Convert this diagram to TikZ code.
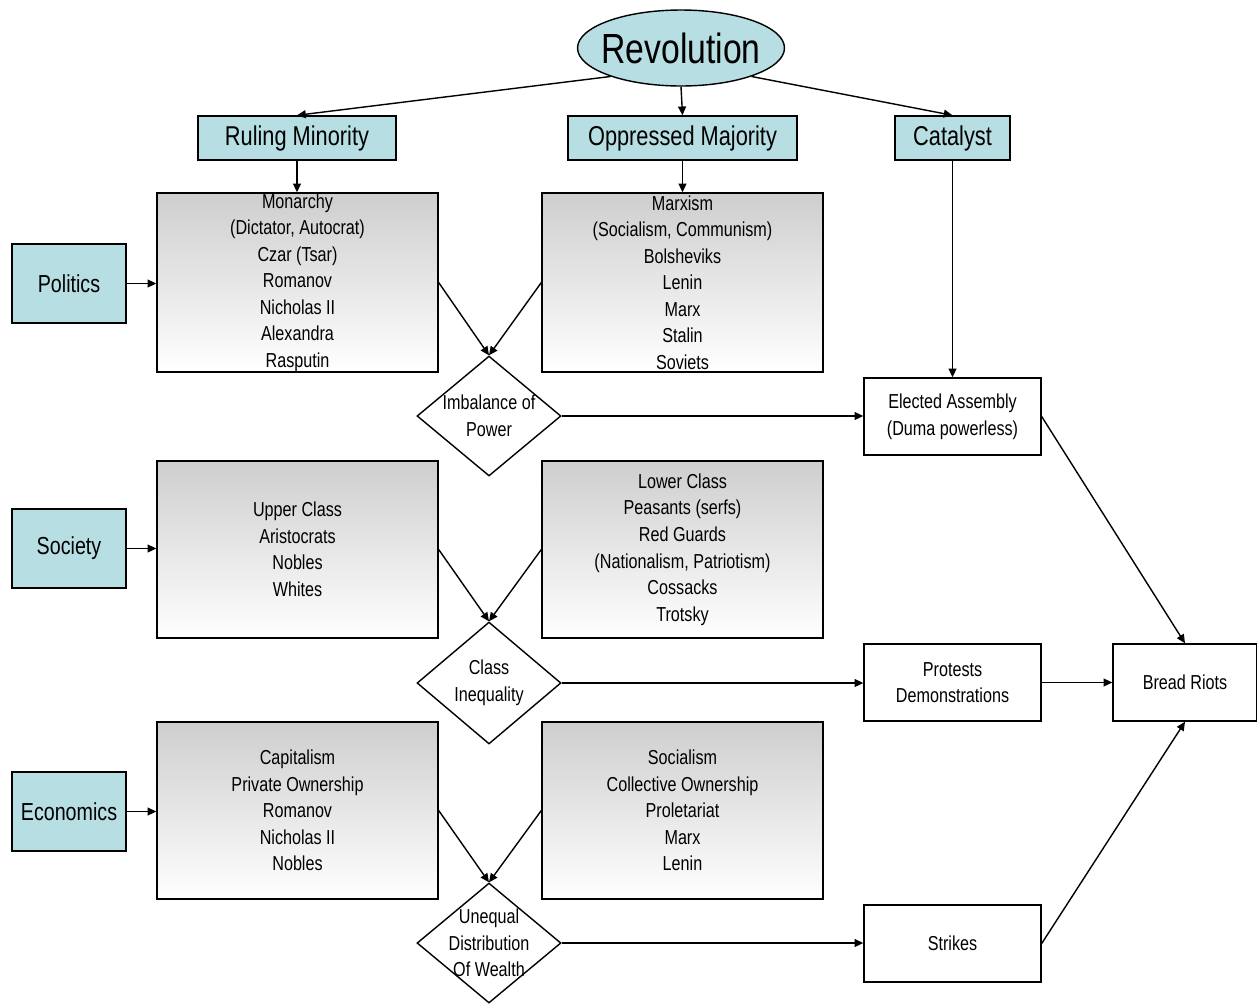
\documentclass[tikz,border=0pt]{standalone}
\usepackage{fontspec}
\setmainfont{Liberation Sans}[FakeStretch=0.8]
\usetikzlibrary{shapes.geometric,arrows.meta}
\definecolor{lblue}{RGB}{183,222,226}
\definecolor{gtop}{RGB}{206,206,206}
\tikzset{
  base/.style={draw=black, line width=0.8pt, inner sep=0pt, align=center},
  bluebox/.style={base, fill=lblue, font=\fontsize{14}{17}\selectfont},
  headbox/.style={bluebox, minimum height=0.88cm, font=\fontsize{15.5}{18}\selectfont},
  sidebox/.style={bluebox, minimum width=2.28cm, minimum height=1.58cm},
  gradbox/.style={base, top color=gtop, bottom color=white, minimum width=5.62cm,
    font=\fontsize{11.5}{15.1}\selectfont},
  plainbox/.style={base, fill=white, minimum width=3.54cm, minimum height=1.54cm,
    font=\fontsize{11.5}{15.1}\selectfont},
  decision/.style={base, diamond, fill=white, minimum width=2.88cm, minimum height=2.4cm},
  dtext/.style={align=center, font=\fontsize{11.5}{15.1}\selectfont},
  arr/.style={line width=0.8pt, -{Triangle[length=5pt,width=4.5pt]}},
}
\begin{document}
\begin{tikzpicture}[x=0.02cm,y=-0.02cm]
\useasboundingbox[fill=white] (0,0) rectangle (1257,1005);

% top
\node[base, ellipse, fill=lblue, minimum width=4.14cm, minimum height=1.52cm,
  label={[font=\fontsize{24}{28}\selectfont]center:Revolution}] (rev) at (681,48) {};
\node[headbox, minimum width=3.96cm] (rm) at (297,138) {Ruling Minority};
\node[headbox, minimum width=4.58cm] (om) at (682.5,138) {Oppressed Majority};
\node[headbox, minimum width=2.3cm] (cat) at (952.5,138) {Catalyst};

% side labels
\node[sidebox] (pol) at (69,283.5) {Politics};
\node[sidebox] (soc) at (69,548.5) {Society};
\node[sidebox] (eco) at (69,811.5) {Economics};

% gradient boxes
\node[gradbox, minimum height=3.58cm] (g1) at (297.5,282.5)
  {Monarchy\\(Dictator, Autocrat)\\Czar (Tsar)\\Romanov\\Nicholas II\\Alexandra\\Rasputin};
\node[gradbox, minimum height=3.58cm] (g2) at (682.5,282.5)
  {Marxism\\(Socialism, Communism)\\Bolsheviks\\Lenin\\Marx\\Stalin\\Soviets};
\node[gradbox, minimum height=3.54cm] (g3) at (297.5,549.5)
  {Upper Class\\Aristocrats\\Nobles\\Whites};
\node[gradbox, minimum height=3.54cm] (g4) at (682.5,549.5)
  {Lower Class\\Peasants (serfs)\\Red Guards\\(Nationalism, Patriotism)\\Cossacks\\Trotsky};
\node[gradbox, minimum height=3.54cm] (g5) at (297.5,810.5)
  {Capitalism\\Private Ownership\\Romanov\\Nicholas II\\Nobles};
\node[gradbox, minimum height=3.54cm] (g6) at (682.5,810.5)
  {Socialism\\Collective Ownership\\Proletariat\\Marx\\Lenin};

% diamonds
\node[decision, label={[dtext]center:Imbalance of\\Power}] (d1) at (489,416) {};
\node[decision, minimum height=2.44cm, label={[dtext]center:Class\\Inequality}] (d2) at (489,683) {};
\node[decision, label={[dtext]center:Unequal\\Distribution\\Of Wealth}] (d3) at (489,943) {};

% right column
\node[plainbox] (ea) at (952.5,416.5) {Elected Assembly\\(Duma powerless)};
\node[plainbox] (pr) at (952.5,682.5) {Protests\\Demonstrations};
\node[plainbox] (st) at (952.5,943.5) {Strikes};
\node[plainbox, minimum width=2.88cm] (br) at (1185,682.5) {Bread Riots};

% connectors
\draw[arr] (rev.202) -- (rm.north);
\draw[arr] (rev.south) -- (om.north);
\draw[arr] (rev.-22) -- (cat.north);
\draw[arr] (rm.south) -- (rm.south |- g1.north);
\draw[arr] (om.south) -- (om.south |- g2.north);

\draw[arr] (pol.east) -- (pol.east -| g1.west);
\draw[arr] (soc.east) -- (soc.east -| g3.west);
\draw[arr] (eco.east) -- (eco.east -| g5.west);

\draw[arr] (g1.east) -- (d1.north);
\draw[arr] (g2.west) -- (d1.north);
\draw[arr] (g3.east) -- (d2.north);
\draw[arr] (g4.west) -- (d2.north);
\draw[arr] (g5.east) -- (d3.north);
\draw[arr] (g6.west) -- (d3.north);

\draw[arr] (cat.south) -- (cat.south |- ea.north);
\draw[arr] (d1.east) -- (d1.east -| ea.west);
\draw[arr] (d2.east) -- (d2.east -| pr.west);
\draw[arr] (d3.east) -- (d3.east -| st.west);

\draw[arr] (ea.east) -- (br.north);
\draw[arr] (pr.east) -- (br.west);
\draw[arr] (st.east) -- (br.south);
\end{tikzpicture}
\end{document}
